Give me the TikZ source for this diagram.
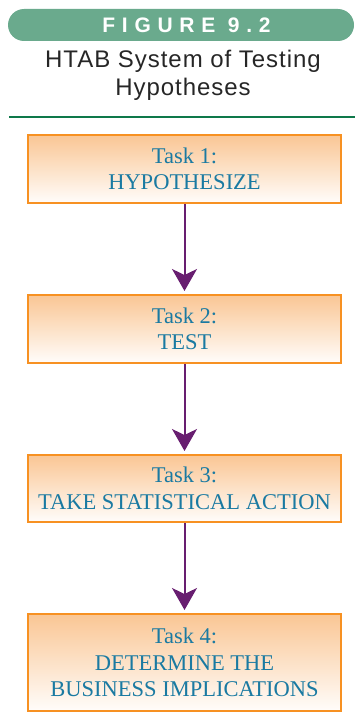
\documentclass[tikz,border=0pt]{standalone}
\usepackage{fontspec}
\setmainfont{Liberation Serif}
\newfontfamily\figfont{Liberation Sans}[LetterSpace=32]
\newfontfamily\titlefont{Liberation Sans}[LetterSpace=4]
\usetikzlibrary{positioning,arrows.meta}

\definecolor{barverde}{RGB}{106,170,141}
\definecolor{linhaverde}{RGB}{14,120,74}
\definecolor{laranja}{RGB}{247,145,34}
\definecolor{pessego}{RGB}{250,198,148}
\definecolor{azultexto}{RGB}{26,122,162}
\definecolor{roxo}{RGB}{104,30,112}

\begin{document}
\begin{tikzpicture}[
  x=1pt, y=-1pt,
  node distance=90pt,
  tarefa/.style={rectangle, draw=laranja, line width=2pt,
                 top color=pessego, bottom color=white!96!pessego,
                 minimum width=313pt, minimum height=68pt, align=center,
                 text=azultexto, font=\fontsize{22.5}{26.5}\selectfont, inner sep=2pt},
  seta/.style={-{Stealth[length=22pt, width=25pt, inset=6pt]}, line width=2pt,
               draw=roxo, shorten >=3pt},
  faixa/.style={rectangle, rounded corners=16pt, fill=barverde, text=white,
                minimum width=346pt, minimum height=32pt, inner sep=0pt,
                font=\figfont\bfseries\fontsize{21}{21}\selectfont},
  titulo/.style={align=center, inner sep=0pt, text=black!85,
                 font=\titlefont\fontsize{24}{28}\selectfont}
]
\useasboundingbox (0,0) rectangle (355,717);

% ---------------- Cabecalho ----------------
\node[faixa] (fig) at (181,25) {\hspace{11pt}FIGURE 9.2};
\node[titulo] (tit) at (183,75) {HTAB System of Testing\\Hypotheses};
\draw[linhaverde, line width=2.5pt] (9,117) -- (355,117);

% ---------------- Tarefas ----------------
\node[tarefa] (t1) at (184.5,169) {Task 1:\\HYPOTHESIZE};
\node[tarefa, below=of t1] (t2) {Task 2:\\TEST};
\node[tarefa, below=of t2, minimum height=67pt] (t3) {Task 3:\\TAKE STATISTICAL ACTION};
\node[tarefa, below=of t3, minimum height=97pt] (t4)
  {Task 4:\\DETERMINE THE\\BUSINESS IMPLICATIONS};

% ---------------- Setas ----------------
\draw[seta] (t1) -- (t2);
\draw[seta] (t2) -- (t3);
\draw[seta] (t3) -- (t4);

\end{tikzpicture}
\end{document}
